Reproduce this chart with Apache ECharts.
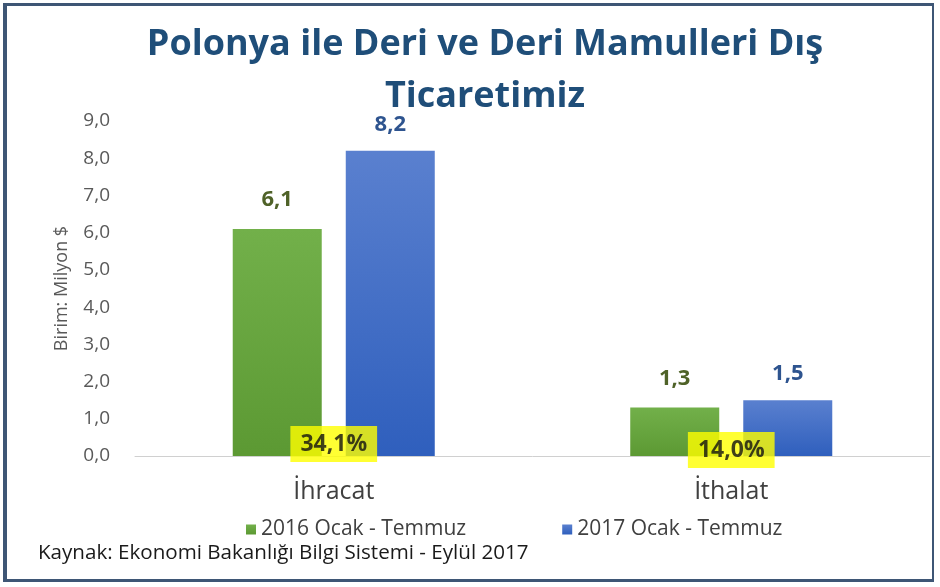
<!DOCTYPE html>
<html>
<head>
<meta charset="utf-8">
<script src="https://cdn.jsdelivr.net/npm/echarts@6/dist/echarts.min.js"></script>
<style>
  html, body { margin: 0; padding: 0; background: #fff; }
  #chart {
    position: absolute; left: 3px; top: 3px;
    width: 931px; height: 579px;
    border: 3px solid #3e5675; border-left-width: 4px; border-right-width: 2px;
    box-sizing: border-box;
  }
</style>
</head>
<body>
<div id="chart"></div>
<script>
// chart data
var categories = ["İhracat", "İthalat"];
var seriesNames = ["2016 Ocak - Temmuz", "2017 Ocak - Temmuz"];
var values2016 = [6.1, 1.3];
var values2017 = [8.2, 1.5];
var changeLabels = ["34,1%", "14,0%"];
var yTicks = [0, 1, 2, 3, 4, 5, 6, 7, 8, 9];

var fmt = function (v) { return v.toFixed(1).replace(".", ","); };

var chart = echarts.init(document.getElementById("chart"));

var option = {
  animation: false,
  title: {
    text: "Polonya ile Deri ve Deri Mamulleri Dış\nTicaretimiz",
    left: 478,
    textAlign: "center",
    top: 13,
    padding: 0,
    textStyle: {
      fontFamily: "Open Sans, sans-serif",
      fontSize: 36,
      fontWeight: "bold",
      color: "#1f4e79",
      lineHeight: 52,
    },
  },
  grid: {
    left: 128,
    right: 2,
    top: 115,
    bottom: 123,
  },
  legend: {
    data: seriesNames,
    left: 234,
    top: 508,
    itemGap: 96,
    itemWidth: 10,
    itemHeight: 10,
    icon: "rect",
    textStyle: {
      fontFamily: "Open Sans, sans-serif",
      fontSize: 21,
      color: "#404040",
    },
  },
  graphic: [
    {
      type: "text",
      left: 31,
      top: 537,
      style: {
        text: "Kaynak: Ekonomi Bakanlığı Bilgi Sistemi - Eylül 2017",
        font: "20.6px 'Open Sans', sans-serif",
        fill: "#1a1a1a",
      },
    },
  ],
  xAxis: {
    type: "category",
    data: categories,
    axisTick: { show: false },
    axisLine: { lineStyle: { color: "#d0d0d0" } },
    axisLabel: {
      margin: 23,
      fontFamily: "Open Sans, sans-serif",
      fontSize: 25,
      color: "#404040",
    },
  },
  yAxis: {
    type: "value",
    min: yTicks[0],
    max: yTicks[yTicks.length - 1],
    interval: 1,
    name: "Birim: Milyon $",
    nameLocation: "middle",
    nameGap: 64,
    nameTextStyle: {
      fontFamily: "Open Sans, sans-serif",
      fontSize: 18,
      color: "#595959",
    },
    splitLine: { show: false },
    axisLine: { show: false },
    axisTick: { show: false },
    axisLabel: {
      margin: 25,
      formatter: fmt,
      fontFamily: "Open Sans, sans-serif",
      fontSize: 19,
      color: "#595959",
    },
  },
  series: [
    {
      name: seriesNames[0],
      type: "bar",
      data: values2016,
      barWidth: 89,
      barGap: "27%",
      itemStyle: {
        color: new echarts.graphic.LinearGradient(0, 0, 0, 1, [
          { offset: 0, color: "#72b04a" },
          { offset: 1, color: "#5c9933" },
        ]),
      },
      label: {
        show: true,
        position: "top",
        distance: 18,
        formatter: function (p) { return fmt(p.value); },
        fontFamily: "Open Sans, sans-serif",
        fontWeight: "bold",
        fontSize: 22,
        color: "#4f6228",
      },
    },
    {
      name: seriesNames[1],
      type: "bar",
      data: values2017,
      barWidth: 89,
      itemStyle: {
        color: new echarts.graphic.LinearGradient(0, 0, 0, 1, [
          { offset: 0, color: "#5a80cf" },
          { offset: 1, color: "#2f5fbd" },
        ]),
      },
      label: {
        show: true,
        position: "top",
        distance: 15,
        formatter: function (p) { return fmt(p.value); },
        fontFamily: "Open Sans, sans-serif",
        fontWeight: "bold",
        fontSize: 22,
        color: "#2e548f",
      },
    },
    {
      // percentage change boxes, centred on each category
      name: "change",
      type: "scatter",
      symbolSize: 0,
      silent: true,
      z: 5,
      data: categories.map(function (c, i) {
        return {
          value: [c, 0],
          label: { offset: [0, i === 0 ? -12 : -6] },
        };
      }),
      label: {
        show: true,
        position: "inside",
        formatter: function (p) { return changeLabels[p.dataIndex]; },
        backgroundColor: "#ffff00",
        padding: [7, 10, 6, 10],
        fontFamily: "Open Sans, sans-serif",
        fontWeight: "bold",
        fontSize: 23,
        color: "#111111",
      },
    },
  ],
};

chart.setOption(option);
</script>
</body>
</html>
